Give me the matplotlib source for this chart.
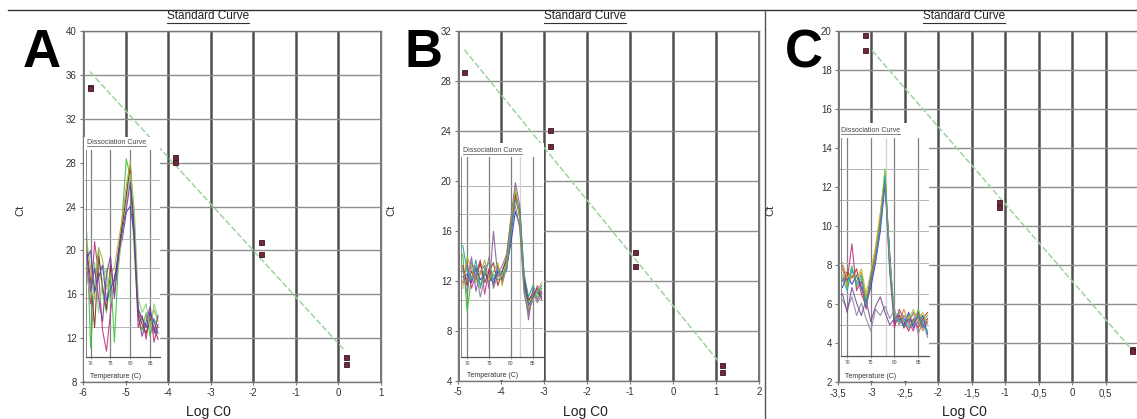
import matplotlib
matplotlib.use("Agg")
import matplotlib.pyplot as plt
from matplotlib.lines import Line2D
from matplotlib.ticker import FuncFormatter

plt.rcParams['font.family'] = ['Liberation Sans', 'DejaVu Sans']
plt.rcParams['axes.unicode_minus'] = False

W, H = 1137, 419

# ---- standard curves (Log C0 vs Ct) ----
a_logc0 = [-5.84, -5.84, -3.83, -3.83, -1.83, -1.83, 0.18, 0.18]
a_ct = [34.9, 34.8, 28.5, 28.1, 20.8, 19.7, 10.25, 9.6]
a_fit_x = [-5.84, 0.14]
a_fit_y = [36.3, 10.9]

b_logc0 = [-4.86, -2.86, -2.86, -0.88, -0.88, 1.13, 1.13]
b_ct = [28.7, 24.1, 22.8, 14.3, 13.2, 5.3, 4.7]
b_fit_x = [-4.85, 1.05]
b_fit_y = [30.5, 5.6]

c_logc0 = [-3.09, -3.09, -1.10, -1.10, 0.89, 0.89]
c_ct = [19.8, 19.03, 11.25, 10.95, 3.7, 3.6]
c_fit_x = [-2.99, 0.88]
c_fit_y = [19.0, 3.7]

# ---- dissociation curves (inset), arbitrary units ----
temps = [69, 70, 71, 72, 73, 74, 75, 76, 77, 78, 79, 80, 81, 82, 83, 84, 85, 86, 87]

a_melt = [
    [4.2, 0.3, 2.4, 3.6, 2.2, 1.5, 2.9, 0.5, 3.2, 4.8, 6.7, 6.1, 3.6, 1.3, 0.9, 1.5, 0.7, 1.3, 1.0],
    [3.0, 1.8, 3.9, 2.8, 0.9, 0.2, 1.5, 2.7, 3.3, 4.4, 5.5, 6.4, 4.0, 1.0, 1.4, 0.6, 1.6, 0.5, 1.1],
    [3.6, 2.6, 1.0, 3.4, 2.4, 1.6, 3.1, 2.2, 3.6, 4.5, 5.4, 6.5, 4.4, 1.5, 1.1, 0.8, 1.3, 1.0, 0.6],
    [3.9, 3.0, 2.0, 3.7, 3.3, 2.3, 2.8, 3.0, 3.9, 4.7, 5.8, 6.6, 4.8, 1.7, 1.2, 1.4, 1.1, 1.6, 1.2],
    [3.3, 3.6, 2.2, 2.7, 3.1, 1.9, 2.3, 2.6, 3.5, 4.0, 4.9, 5.1, 4.1, 1.6, 1.3, 1.0, 1.5, 1.2, 0.8],
    [2.8, 2.0, 3.2, 1.5, 2.6, 3.0, 1.8, 2.4, 3.0, 4.2, 5.2, 6.2, 5.0, 2.0, 1.5, 1.8, 0.9, 1.8, 1.3],
    [3.5, 2.2, 3.0, 2.0, 1.2, 2.8, 3.4, 2.0, 3.4, 4.3, 5.0, 5.9, 4.2, 1.4, 0.7, 1.2, 1.7, 0.8, 1.4],
]
a_melt_colors = ['#3cc23c', '#c0307f', '#8b2a2a', '#a8b03a', '#3a45c0', '#7fd47f', '#7a3a9a']

b_melt = [
    [3.6, 1.6, 2.8, 3.2, 2.5, 3.0, 2.6, 2.9, 2.7, 2.8, 3.3, 4.5, 5.8, 5.1, 2.7, 1.9, 2.3, 2.1, 2.4],
    [2.6, 3.3, 2.4, 2.9, 3.4, 2.2, 3.1, 2.5, 3.2, 2.6, 3.1, 4.2, 5.6, 4.9, 2.4, 1.6, 2.0, 2.5, 2.2],
    [3.0, 2.7, 3.5, 2.3, 3.0, 3.2, 2.4, 4.4, 2.8, 3.0, 3.5, 4.9, 6.1, 5.3, 2.5, 1.3, 2.4, 2.0, 2.3],
    [2.8, 2.9, 2.6, 3.1, 2.7, 2.9, 2.8, 2.6, 3.0, 2.7, 3.2, 4.0, 5.1, 4.6, 2.6, 1.8, 2.1, 2.3, 2.1],
    [3.2, 2.5, 3.0, 2.7, 3.3, 2.6, 3.0, 3.3, 2.5, 3.0, 3.4, 4.6, 5.7, 5.0, 2.8, 2.0, 2.2, 2.4, 2.0],
    [3.9, 3.0, 2.7, 3.4, 2.4, 3.1, 3.3, 2.7, 3.1, 2.9, 3.0, 4.3, 5.5, 5.2, 2.9, 2.1, 2.5, 2.2, 2.5],
    [2.4, 3.5, 3.1, 2.6, 2.9, 3.4, 2.7, 3.0, 3.3, 2.5, 3.3, 4.7, 5.9, 4.8, 2.3, 1.7, 2.0, 2.3, 2.6],
    [3.1, 2.2, 3.3, 3.0, 2.1, 2.8, 3.5, 2.4, 2.9, 3.2, 3.6, 4.8, 5.3, 4.5, 2.2, 1.5, 2.3, 1.9, 2.2],
]
b_melt_colors = ['#35c235', '#d0308a', '#8a5a9a', '#3040c8', '#9a2a2a', '#2aa0a0', '#a8b030', '#808080']
b_tm = 82.0

c_melt = [
    [2.6, 2.3, 2.9, 2.2, 2.5, 1.8, 2.5, 3.2, 4.4, 6.0, 3.0, 1.2, 1.4, 0.9, 1.3, 1.0, 1.5, 1.1, 1.3],
    [2.4, 2.7, 2.5, 2.8, 2.0, 1.6, 2.6, 3.4, 4.5, 5.7, 3.2, 1.0, 1.3, 1.1, 0.8, 1.2, 0.9, 1.2, 1.4],
    [2.8, 2.2, 2.6, 2.4, 2.7, 1.9, 2.3, 3.3, 4.3, 5.8, 2.8, 1.3, 1.1, 1.5, 1.0, 1.4, 1.2, 0.8, 1.2],
    [2.2, 2.6, 2.3, 2.6, 2.2, 1.7, 2.2, 3.0, 4.0, 5.5, 3.3, 1.1, 1.2, 1.0, 1.4, 0.9, 1.1, 1.3, 0.7],
    [2.9, 2.4, 3.6, 2.1, 2.4, 1.5, 2.4, 3.1, 4.2, 5.6, 2.7, 0.9, 1.5, 1.2, 1.1, 0.8, 1.4, 1.0, 1.2],
    [3.0, 2.5, 2.7, 2.5, 2.8, 2.0, 2.7, 3.5, 4.6, 5.9, 3.1, 1.4, 1.0, 1.3, 1.2, 1.5, 1.1, 1.4, 1.0],
    [1.8, 1.5, 1.9, 1.3, 1.7, 1.2, 0.8, 1.5, 1.3, 1.6, 1.2, 1.5, 1.0, 1.3, 1.1, 1.4, 0.7, 1.1, 0.6],
    [2.0, 1.4, 2.2, 1.7, 1.3, 1.8, 1.1, 1.6, 1.9, 1.4, 1.0, 1.2, 1.3, 0.9, 1.2, 1.0, 1.3, 0.9, 1.1],
    [2.5, 2.1, 2.8, 2.3, 2.6, 1.6, 2.5, 3.1, 4.2, 5.8, 2.9, 1.2, 1.1, 1.2, 0.9, 1.1, 1.3, 1.0, 0.8],
]
c_melt_colors = ['#3cd03c', '#c03030', '#e08a20', '#3040c8', '#c0308a', '#b8c030', '#8a8a9a', '#7a4a9a', '#20a8a8']
c_tm = 78.2


def px_rect(left, top, right, bottom):
    """pixel box (from top-left) -> figure fraction rect"""
    return [left / W, 1 - bottom / H, (right - left) / W, (bottom - top) / H]


def fx(x):
    return x / W


def fy(y):
    return 1 - y / H


def underline(fig, txt, gap=1.5, lw=0.7, color='#333333'):
    fig.canvas.draw()
    bb = txt.get_window_extent()
    y = (bb.y0 - gap) / fig.bbox.height
    fig.add_artist(Line2D([bb.x0 / fig.bbox.width, bb.x1 / fig.bbox.width], [y, y],
                          color=color, lw=lw))


def tick_fmt(limit):
    # the reference uses decimal commas; the last tick label falls off the page
    def f(v, pos):
        if v >= limit:
            return ''
        return f'{v:g}'.replace('.', ',')
    return FuncFormatter(f)


def draw_panel(fig, p):
    ax = fig.add_axes(px_rect(*p['main']))
    ax.set_xlim(p['xlim'])
    ax.set_ylim(p['ylim'])
    ax.set_xticks(p['xticks'])
    ax.set_yticks(p['yticks'])
    ax.xaxis.set_major_formatter(tick_fmt(p.get('hide_from', 99)))
    ax.yaxis.set_major_formatter(FuncFormatter(lambda v, pos: f'{v:g}'))
    ax.set_axisbelow(True)
    ax.grid(axis='x', color='#4e4e4e', lw=1.8)
    ax.grid(axis='y', color='#8e8e8e', lw=1.0)
    for s in ax.spines.values():
        s.set_color('#777777')
        s.set_linewidth(1.0)
    ax.tick_params(labelsize=7, labelcolor='#333333', color='#777777', length=2.5, width=0.8, pad=2)

    ax.plot(p['fit_x'], p['fit_y'], color='#9fd49f', lw=1.1, ls=(0, (4, 1.5)), zorder=2)
    ax.plot(p['x'], p['y'], 's', ms=3.6, mfc='#6e2a3a', mec='#3e1620', mew=0.6, zorder=3)

    # white box that hides the main chart behind the inset
    bg = fig.add_axes(px_rect(*p['inset_bg']))
    bg.set_facecolor('white')
    bg.set_xticks([])
    bg.set_yticks([])
    for s in bg.spines.values():
        s.set_visible(False)

    ins = fig.add_axes(px_rect(*p['inset']))
    ins.set_facecolor('none')
    ins.set_xlim(p['tlim'])
    ins.set_ylim(0, 7)
    ins.set_xticks([70, 75, 80, 85])
    ins.set_yticks([1, 2, 3, 4, 5, 6])
    ins.set_yticklabels([])
    ins.set_axisbelow(True)
    ins.grid(axis='x', color='#808080', lw=0.9)
    ins.grid(axis='y', color='#b4b4b4', lw=0.7)
    ins.spines['top'].set_visible(False)
    ins.spines['right'].set_visible(False)
    ins.spines['left'].set_color('#888888')
    ins.spines['bottom'].set_color('#555555')
    ins.spines['left'].set_linewidth(0.7)
    ins.spines['bottom'].set_linewidth(0.9)
    ins.tick_params(labelsize=3.5, labelcolor='#444444', color='#777777', length=1.5, width=0.5, pad=1.5)
    if p.get('tm') is not None:
        ins.axvline(p['tm'], color='#d2d2d2', lw=0.9, zorder=1)
    for tr, c in zip(p['melt'], p['melt_colors']):
        ins.plot(temps, tr, color=c, lw=0.8, alpha=0.9, zorder=2)

    t = fig.text(fx(p['inset_title'][0]), fy(p['inset_title'][1]), 'Dissociation Curve',
                 fontsize=5, color='#444444', ha='left', va='center')
    underline(fig, t, gap=0.8, lw=0.5, color='#555555')
    fig.text(fx(p['temp_label'][0]), fy(p['temp_label'][1]), 'Temperature (C)',
             fontsize=5, color='#333333', ha='left', va='center')

    # titles and labels
    st = fig.text(fx(p['title_x']), fy(16), 'Standard Curve', fontsize=8.5, color='#222222',
                  ha='center', va='center')
    underline(fig, st, gap=1.2, lw=0.8, color='#333333')
    fig.text(fx(p['title_x']), fy(412), 'Log C0', fontsize=10, color='#222222', ha='center', va='center')
    fig.text(fx(p['ct_x']), fy(210), 'Ct', fontsize=8, color='#333333', rotation=90,
             ha='center', va='center')
    fig.text(fx(p['letter_x']), fy(53), p['letter'], fontsize=38, fontweight='bold',
             color='black', ha='center', va='center')


panels = [
    dict(letter='A', letter_x=42, main=(83, 31, 381, 382), xlim=(-6, 1), ylim=(8, 40),
         xticks=list(range(-6, 2)), yticks=list(range(8, 41, 4)),
         x=a_logc0, y=a_ct, fit_x=a_fit_x, fit_y=a_fit_y,
         inset_bg=(84.5, 137, 160, 381), inset=(85.5, 150, 160, 357), tlim=(68.7, 87.5),
         melt=a_melt, melt_colors=a_melt_colors, tm=None,
         inset_title=(87, 142), temp_label=(90, 376), title_x=208, ct_x=20),
    dict(letter='B', letter_x=424, main=(458, 31, 759, 381), xlim=(-5, 2), ylim=(4, 32),
         xticks=list(range(-5, 3)), yticks=list(range(4, 33, 4)),
         x=b_logc0, y=b_ct, fit_x=b_fit_x, fit_y=b_fit_y,
         inset_bg=(459.5, 143, 544, 380), inset=(461, 157, 543, 357), tlim=(68.6, 87.3),
         melt=b_melt, melt_colors=b_melt_colors, tm=b_tm,
         inset_title=(463, 150), temp_label=(467, 375), title_x=585, ct_x=391),
    dict(letter='C', letter_x=804, main=(838, 31, 1139, 382), xlim=(-3.5, 1), ylim=(2, 20),
         xticks=[-3.5, -3, -2.5, -2, -1.5, -1, -0.5, 0, 0.5, 1], yticks=list(range(2, 21, 2)),
         hide_from=1,
         x=c_logc0, y=c_ct, fit_x=c_fit_x, fit_y=c_fit_y,
         inset_bg=(839.5, 123, 929, 381), inset=(841, 138, 929, 356), tlim=(68.7, 87.3),
         melt=c_melt, melt_colors=c_melt_colors, tm=c_tm,
         inset_title=(841, 130), temp_label=(845, 376), title_x=964, ct_x=770),
]

fig = plt.figure(figsize=(W / 100, H / 100), dpi=100)
fig.patch.set_facecolor('white')

for p in panels:
    draw_panel(fig, p)

# frame lines of the composite figure
fig.add_artist(Line2D([fx(8), 1], [fy(10), fy(10)], color='#333333', lw=1.0))
fig.add_artist(Line2D([fx(765), fx(765)], [0, fy(10)], color='#555555', lw=1.0))

fig.savefig('out.png', dpi=100)
